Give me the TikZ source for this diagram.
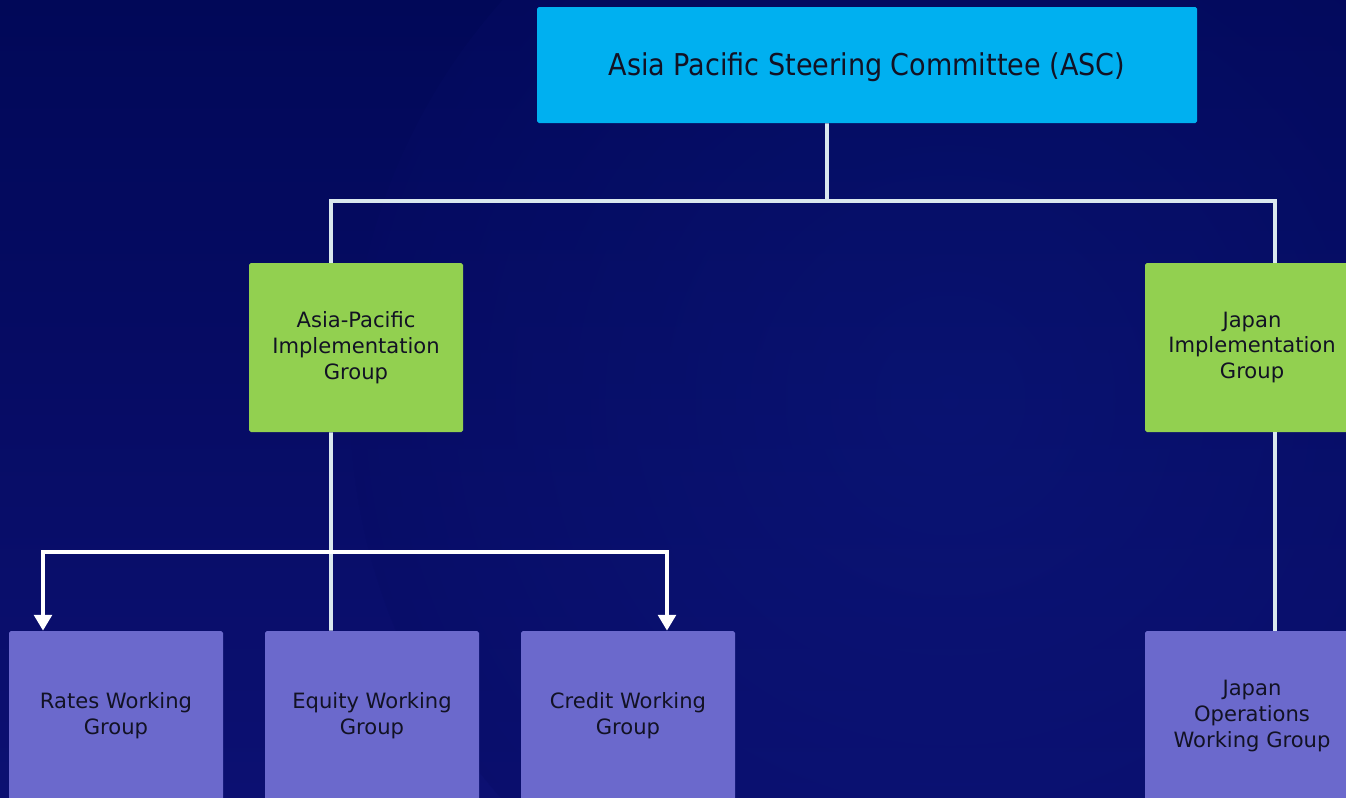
\documentclass[tikz,border=0pt]{standalone}
\usepackage{fontspec}
\setmainfont{DejaVu Sans}
\newfontfamily\condensedfont{DejaVu Sans Condensed}
\usetikzlibrary{arrows.meta, positioning, calc}
\usepackage{xcolor}
\definecolor{bgtop}{RGB}{1, 8, 88}
\definecolor{bgbottom}{RGB}{12, 16, 114}
\definecolor{bgglow}{RGB}{14, 32, 136}
\definecolor{committeecyan}{RGB}{0, 176, 240}
\definecolor{implgreen}{RGB}{146, 208, 80}
\definecolor{workpurple}{RGB}{107, 105, 204}
\definecolor{linkgray}{RGB}{218, 232, 238}
\definecolor{textdark}{RGB}{18, 18, 36}
\tikzset{
    org box/.style={
        rectangle,
        rounded corners=1pt,
        align=center,
        text=textdark,
        font=\fontsize{12}{14.7}\selectfont
    },
    committee node/.style={
        org box,
        fill=committeecyan,
        minimum width=13.2cm,
        minimum height=2.32cm,
        font=\condensedfont\fontsize{17.1}{19}\selectfont
    },
    impl node/.style={
        org box,
        fill=implgreen,
        minimum width=4.28cm,
        minimum height=3.38cm
    },
    working node/.style={
        org box,
        fill=workpurple,
        minimum width=4.28cm,
        minimum height=3.4cm
    },
    link/.style={
        line width=2pt,
        draw=linkgray
    },
    flow/.style={
        -{Triangle[width=10pt,length=9pt]},
        line width=2.2pt,
        draw=white
    }
}

\begin{document}
\begin{tikzpicture}

% Canvas
\useasboundingbox (0,0) rectangle (26.92,-15.96);
\clip (0,0) rectangle (26.92,-15.96);
\shade[top color=bgtop, bottom color=bgbottom] (0,0) rectangle (26.92,-15.96);
\shade[inner color=bgglow, outer color=bgtop!50!bgbottom, opacity=0.35]
    (19,-8) circle (12);

% === COMMITTEE ===
\node[committee node] (asc) at (17.34, -1.30)
    {\raisebox{-6.2pt}[0pt][0pt]{Asia Pacific Steering Committee (ASC)}};

% === IMPLEMENTATION GROUPS ===
\node[impl node] (apig) at (7.12, -6.95) {Asia-Pacific\\Implementation\\Group};
\node[impl node] (jig) at (25.04, -6.95) {Japan\\Implementation\\Group};

% === WORKING GROUPS ===
\node[working node] (rates) at (2.32, -14.32) {Rates Working\\Group};
\node[working node] (equity) at (7.44, -14.32) {Equity Working\\Group};
\node[working node] (credit) at (12.56, -14.32) {Credit Working\\Group};
\node[working node] (jowg) at (25.04, -14.32) {Japan\\Operations\\Working Group};

% === CONNECTORS ===
\coordinate (bus) at (16.54, -4.02);
\coordinate (fork) at (6.62, -11.04);

\draw[link] ([xshift=-8mm]asc.south) -- (bus);
\draw[link] ([xshift=-5mm]apig.north) |- (bus) -| ([xshift=4.6mm]jig.north);
\draw[link] ([xshift=-5mm]apig.south) -- ([xshift=-8.2mm]equity.north);
\draw[link] ([xshift=4.6mm]jig.south) -- ([xshift=4.6mm]jowg.north);

% Arrows to rates and credit
\draw[flow] (fork) -| ([xshift=-14.6mm]rates.north);
\draw[flow] (fork) -| ([xshift=7.8mm]credit.north);

\end{tikzpicture}
\end{document}
